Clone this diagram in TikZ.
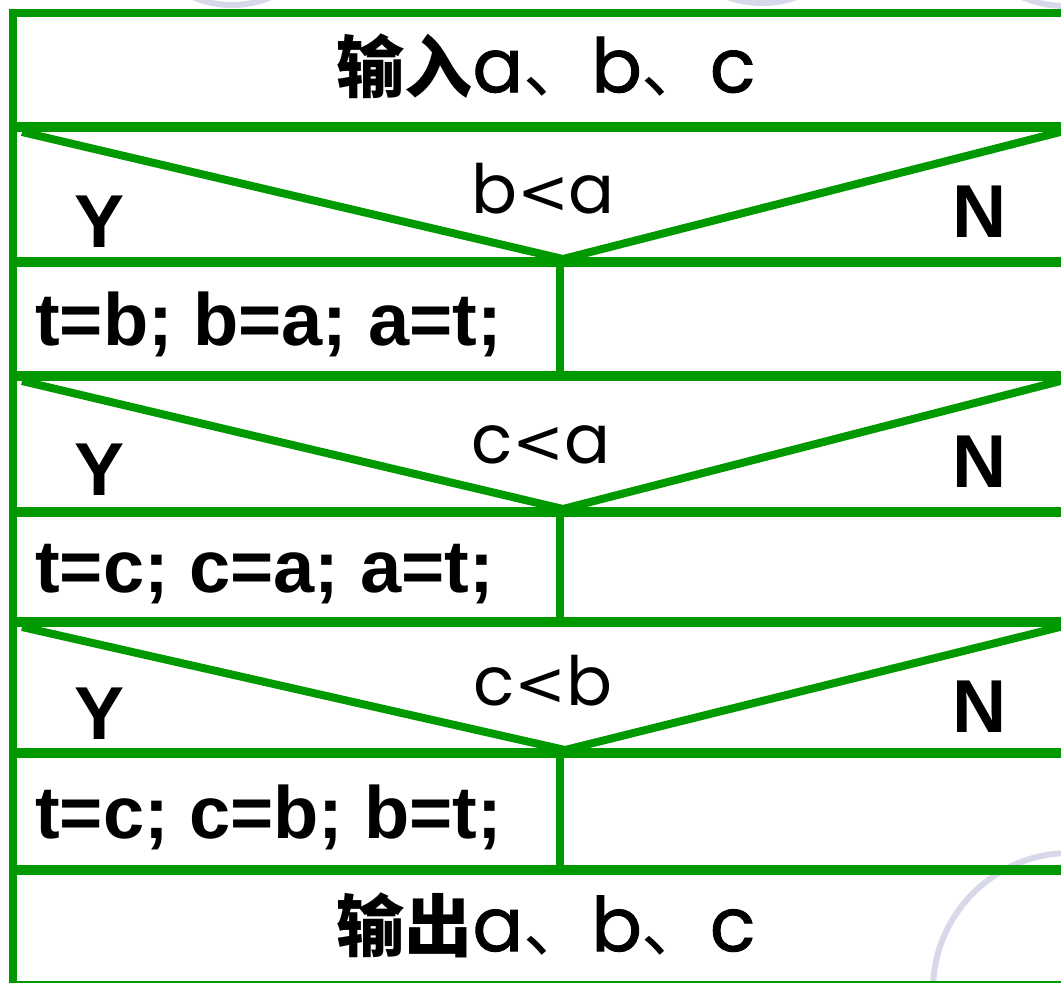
\documentclass[tikz,border=0pt]{standalone}
\usepackage{fontspec}
\setmainfont{Liberation Sans}
\newfontfamily\cjkfont{Noto Sans CJK SC}
\newfontfamily\popfont{Poppins}
\newfontfamily\popmed[FakeBold=1.2]{Poppins}
\newfontfamily\dvfont{DejaVu Sans}
\newcommand{\lt}{{\dvfont\fontsize{62}{70}\selectfont <}}
\definecolor{nsgreen}{RGB}{0,153,0}
\definecolor{ringlav}{RGB}{216,216,235}
\begin{document}
\begin{tikzpicture}[x=1pt,y=-1pt,
  nsline/.style={draw=nsgreen,line width=8pt},
  sepline/.style={draw=nsgreen,line width=10pt},
  ring/.style={draw=ringlav,line width=6pt},
  stmt/.style={anchor=base west,inner sep=0pt,font=\bfseries\fontsize{74}{80}\selectfont},
  yn/.style={anchor=base,inner sep=0pt,font=\bfseries\fontsize{75}{80}\selectfont},
  cond/.style={anchor=base,inner sep=0pt,font=\popfont\fontsize{68}{74}\selectfont},
  io/.style={anchor=center,inner sep=0pt,font=\fontsize{68}{76}\selectfont}]
\useasboundingbox (0,0) rectangle (1061,983);
\clip (0,0) rectangle (1061,983);
% background rings
\draw[ring] (232,-95) circle[radius=100];
\draw[ring] (762,-100) circle[radius=103];
\draw[ring] (1065,-100) circle[radius=106];
\draw[ring] (1070,990) circle[radius=137];
% coordinates
\coordinate (tl) at (13,13);
\coordinate (obr) at (1075,985);
% frame
\draw[nsline] (tl) rectangle (obr);
\draw[sepline] (13,127) -- (1075,127);
\draw[sepline] (13,262) -- (1075,262);
\draw[sepline] (13,376) -- (1075,376);
\draw[sepline] (13,512) -- (1075,512);
\draw[sepline] (13,622) -- (1075,622);
\draw[sepline] (13,753) -- (1075,753);
\draw[sepline] (13,870) -- (1075,870);
% dividers of process rows
\draw[nsline] (560,262) -- (560,376);
\draw[nsline] (560,512) -- (560,622);
\draw[nsline] (560,753) -- (560,870);
% decision diagonals
\draw[nsline,line join=miter] (22,132) -- (563,259) -- (1072,129);
\draw[nsline,line join=miter] (22,381) -- (563,509) -- (1072,378);
\draw[nsline,line join=miter] (22,627) -- (565,750) -- (1072,624);
% texts
\node[io] (in) at (546,66) {{\cjkfont\bfseries 输入}{\popmed\fontsize{75}{80}\selectfont a}{\cjkfont 、}{\popmed\fontsize{75}{80}\selectfont b}{\cjkfont 、}{\popmed\fontsize{75}{80}\selectfont c}};
\node[cond] (c1) at (543,213) {b\lt a};
\node[yn] (y1) at (100,247) {Y};
\node[yn] (n1) at (980,237) {N};
\node[stmt] (s1) at (35,345) {t=b; b=a; a=t;};
\node[cond] (c2) at (541,463) {c\lt a};
\node[yn] (y2) at (100,495) {Y};
\node[yn] (n2) at (980,487) {N};
\node[stmt] (s2) at (35,592) {t=c; c=a; a=t;};
\node[cond] (c3) at (543,705) {c\lt b};
\node[yn] (y3) at (100,739) {Y};
\node[yn] (n3) at (980,732) {N};
\node[stmt] (s3) at (35,838) {t=c; c=b; b=t;};
\node[io] (out) at (546,925) {{\cjkfont\bfseries 输出}{\popmed\fontsize{75}{80}\selectfont a}{\cjkfont 、}{\popmed\fontsize{75}{80}\selectfont b}{\cjkfont 、}{\popmed\fontsize{75}{80}\selectfont c}};
\end{tikzpicture}
\end{document}
